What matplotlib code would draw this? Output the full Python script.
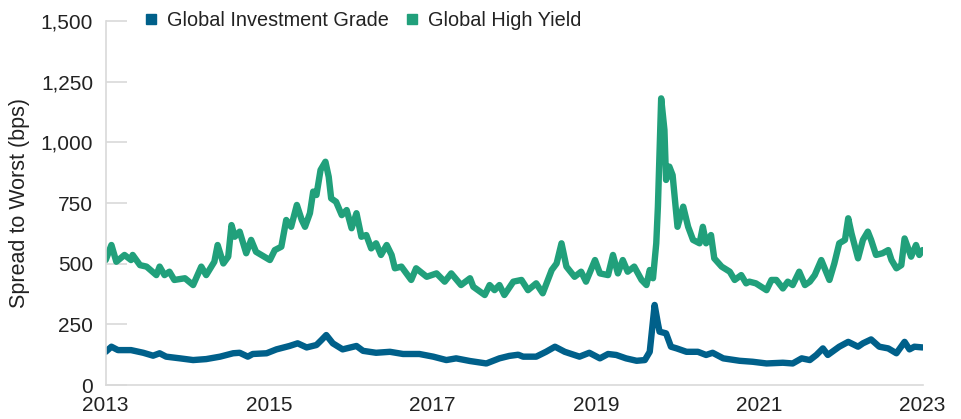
import matplotlib
matplotlib.use("Agg")
import matplotlib.pyplot as plt
from matplotlib.lines import Line2D

plt.rcParams['font.family'] = ['Liberation Sans', 'DejaVu Sans']

# Global High Yield spread to worst (bps), decimal year positions
hy_years = [2013.00, 2013.07, 2013.13, 2013.23, 2013.31, 2013.33, 2013.42, 2013.50, 2013.62, 2013.66,
            2013.72, 2013.78, 2013.84, 2013.97, 2014.07, 2014.17, 2014.23, 2014.33, 2014.37, 2014.44,
            2014.50, 2014.54, 2014.58, 2014.64, 2014.72, 2014.78, 2014.84, 2015.01, 2015.07, 2015.15,
            2015.21, 2015.27, 2015.34, 2015.40, 2015.44, 2015.50, 2015.54, 2015.58, 2015.63, 2015.69,
            2015.73, 2015.76, 2015.82, 2015.89, 2015.95, 2016.01, 2016.07, 2016.13, 2016.19, 2016.25,
            2016.31, 2016.37, 2016.44, 2016.50, 2016.54, 2016.62, 2016.74, 2016.80, 2016.93, 2017.05,
            2017.15, 2017.23, 2017.35, 2017.46, 2017.50, 2017.64, 2017.70, 2017.76, 2017.82, 2017.88,
            2017.99, 2018.09, 2018.17, 2018.27, 2018.35, 2018.46, 2018.52, 2018.58, 2018.64, 2018.74,
            2018.82, 2018.88, 2018.99, 2019.05, 2019.15, 2019.21, 2019.27, 2019.33, 2019.39, 2019.47,
            2019.56, 2019.62, 2019.66, 2019.70, 2019.74, 2019.76, 2019.80, 2019.84, 2019.86, 2019.90,
            2019.94, 2020.00, 2020.07, 2020.13, 2020.19, 2020.27, 2020.31, 2020.35, 2020.41, 2020.45,
            2020.54, 2020.64, 2020.70, 2020.78, 2020.84, 2020.88, 2020.96, 2021.09, 2021.15, 2021.21,
            2021.29, 2021.35, 2021.41, 2021.49, 2021.56, 2021.62, 2021.68, 2021.76, 2021.86, 2021.92,
            2021.98, 2022.05, 2022.09, 2022.13, 2022.21, 2022.27, 2022.33, 2022.37, 2022.43, 2022.51,
            2022.58, 2022.62, 2022.68, 2022.74, 2022.78, 2022.86, 2022.92, 2022.96, 2023.00]
hy_values = [515, 577, 508, 536, 515, 536, 494, 488, 453, 488,
             453, 467, 433, 440, 412, 488, 453, 508, 577, 501,
             529, 659, 611, 632, 543, 598, 549, 515, 556, 570,
             680, 652, 742, 680, 652, 708, 797, 783, 886, 920,
             858, 769, 755, 700, 721, 646, 708, 611, 618, 563,
             584, 536, 577, 536, 481, 488, 433, 481, 446, 460,
             426, 460, 412, 440, 405, 371, 412, 391, 412, 371,
             426, 433, 391, 419, 378, 474, 501, 584, 488, 446,
             467, 426, 515, 460, 453, 536, 460, 515, 467, 488,
             433, 412, 474, 440, 584, 735, 1181, 1051, 845, 900,
             865, 652, 735, 652, 598, 584, 652, 584, 618, 522,
             488, 467, 433, 453, 419, 426, 419, 391, 433, 433,
             398, 426, 412, 467, 412, 426, 453, 515, 433, 501,
             584, 598, 687, 625, 522, 598, 632, 598, 536, 543,
             556, 515, 481, 494, 604, 529, 577, 536, 556]

# Global Investment Grade spread to worst (bps)
ig_years = [2013.00, 2013.07, 2013.15, 2013.31, 2013.46, 2013.58, 2013.66, 2013.74, 2013.91, 2014.07,
            2014.23, 2014.40, 2014.56, 2014.64, 2014.74, 2014.80, 2014.97, 2015.09, 2015.25, 2015.35,
            2015.46, 2015.58, 2015.64, 2015.70, 2015.78, 2015.90, 2016.07, 2016.15, 2016.31, 2016.48,
            2016.64, 2016.84, 2017.01, 2017.17, 2017.29, 2017.46, 2017.66, 2017.82, 2017.94, 2018.05,
            2018.11, 2018.27, 2018.39, 2018.50, 2018.62, 2018.80, 2018.92, 2019.05, 2019.15, 2019.25,
            2019.37, 2019.50, 2019.60, 2019.66, 2019.72, 2019.76, 2019.78, 2019.86, 2019.92, 2019.99,
            2020.11, 2020.25, 2020.35, 2020.43, 2020.56, 2020.76, 2020.92, 2021.09, 2021.29, 2021.41,
            2021.52, 2021.62, 2021.70, 2021.78, 2021.84, 2021.98, 2022.09, 2022.21, 2022.27, 2022.37,
            2022.47, 2022.58, 2022.68, 2022.78, 2022.84, 2022.90, 2023.00]
ig_values = [137, 158, 144, 144, 133, 121, 131, 117, 110, 103,
             107, 117, 131, 133, 117, 128, 131, 147, 161, 172,
             155, 165, 185, 206, 172, 147, 161, 141, 133, 137,
             128, 128, 117, 103, 110, 99, 89, 110, 120, 125,
             117, 117, 137, 158, 137, 117, 133, 110, 128, 124,
             110, 100, 103, 137, 330, 254, 220, 213, 158, 151,
             137, 137, 124, 133, 110, 100, 96, 89, 92, 89,
             110, 103, 124, 151, 124, 158, 178, 158, 172, 188,
             158, 151, 131, 178, 147, 158, 155]

series_names = ["Global Investment Grade", "Global High Yield"]
series_colors = ["#00608A", "#21A07B"]

x_ticks = [2013, 2015, 2017, 2019, 2021, 2023]
y_ticks = [0, 250, 500, 750, 1000, 1250, 1500]

fig = plt.figure(figsize=(9.61, 4.19), dpi=100)
ax = fig.add_axes([0.110, 0.081, 0.850, 0.869])

ax.plot(hy_years, hy_values, color=series_colors[1], lw=4.6, solid_joinstyle='round', solid_capstyle='round')
ax.plot(ig_years, ig_values, color=series_colors[0], lw=4.6, solid_joinstyle='round', solid_capstyle='round')

ax.set_xlim(2013, 2023)
ax.set_ylim(0, 1500)
ax.set_xticks(x_ticks)
ax.set_xticklabels([str(t) for t in x_ticks])
ax.set_yticks(y_ticks)
ax.set_yticklabels([f"{v:,}" for v in y_ticks])

for s in ['top', 'right']:
    ax.spines[s].set_visible(False)
for s in ['left', 'bottom']:
    ax.spines[s].set_color('#d9d9d9')
    ax.spines[s].set_linewidth(1.2)

ax.tick_params(axis='y', direction='in', length=15, width=1.2, color='#d9d9d9',
               labelsize=15, labelcolor='#222222', pad=9)
ax.tick_params(axis='x', length=0, labelsize=15, labelcolor='#222222', pad=8)

ax.set_ylabel("Spread to Worst (bps)", fontsize=15.5, color='#222222', labelpad=8)

handles = [Line2D([], [], marker='s', linestyle='none', markersize=7, color=c) for c in series_colors]
fig.legend(handles, series_names, loc='center left', bbox_to_anchor=(0.150, 0.950),
           ncol=2, frameon=False, fontsize=14.3, handlelength=0.7, handletextpad=0.45,
           columnspacing=0.8, borderpad=0, borderaxespad=0, labelcolor='#222222')

fig.savefig("out.png", dpi=100)
